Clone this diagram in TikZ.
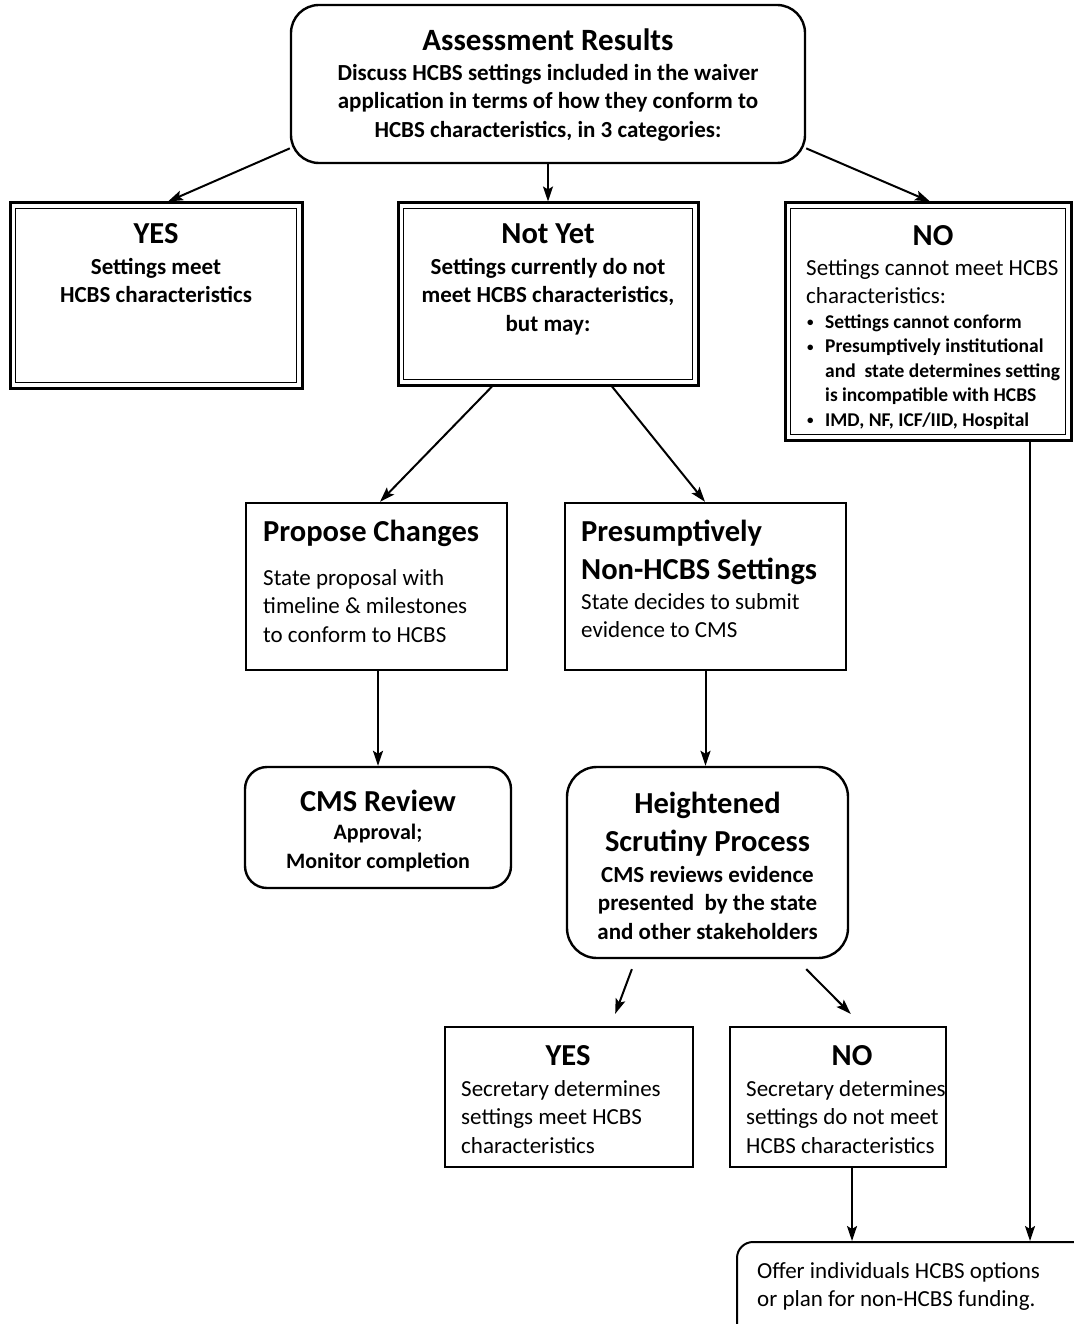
\documentclass[tikz,border=0pt]{standalone}
\usepackage{fontspec}
\setmainfont{Carlito}
\usetikzlibrary{arrows.meta}
\newcommand\TopRule{\rule{0pt}{25pt}}
\newcommand\SmBul{\makebox[19pt][l]{\hspace{1pt}\raisebox{1.5pt}{\fontsize{13}{13}\selectfont\textbullet}}}
\begin{document}
\begin{tikzpicture}[x=1pt,y=-1pt,
  box/.style={draw, line width=2.4pt, inner sep=0pt},
  dbox/.style={draw, line width=3pt, inner sep=0pt},
  arr/.style={line width=2pt, -{Stealth[length=15pt,width=10pt,inset=3pt]}},
  txt/.style={inner sep=0pt, align=center, anchor=north},
  ltxt/.style={inner sep=0pt, align=left, anchor=north west},
  ttl/.style={font=\fontsize{30.5}{36.5}\selectfont\bfseries},
  bodyb/.style={font=\fontsize{23}{28.5}\selectfont\bfseries},
  bodyr/.style={font=\fontsize{23}{28.5}\selectfont},
]
\useasboundingbox (0,0) rectangle (1073,1324);
\fill[white] (0,0) rectangle (1073,1324);

% ---- boxes ----
\node[box, rounded corners=28pt, minimum width=514pt, minimum height=158pt] (top) at (548,84) {};
\node[dbox, minimum width=292pt, minimum height=185pt] (yes1) at (156,295.5) {};
\node[dbox, minimum width=300pt, minimum height=182pt] (notyet) at (548,294) {};
\node[dbox, minimum width=286pt, minimum height=237pt] (no1) at (928,321.5) {};
\node[box, minimum width=261pt, minimum height=167pt] (prop) at (376.5,586.5) {};
\node[box, minimum width=281pt, minimum height=167pt] (pres) at (705.5,586.5) {};
\node[box, rounded corners=22pt, minimum width=266pt, minimum height=121pt] (cms) at (378,827.5) {};
\node[box, rounded corners=30pt, minimum width=281pt, minimum height=191pt] (hs) at (707.5,862.5) {};
\node[box, minimum width=248pt, minimum height=140pt] (yes2) at (569,1097) {};
\node[box, minimum width=216pt, minimum height=140pt] (no2) at (838,1097) {};
\node[box, line width=2pt, rounded corners=16pt, minimum width=352pt, minimum height=98pt] (offer) at (913,1291) {};

% inner lines of the double boxes
\foreach \b in {yes1,notyet,no1}
  \draw[line width=1.3pt] ([shift={(7,7)}]\b.north west) rectangle ([shift={(-7,-7)}]\b.south east);

% ---- texts ----
\node[txt, bodyb] (top-t) at (548,50-25)
  {\TopRule{\fontsize{31}{31}\selectfont Assessment Results}\\[1.5pt]
   Discuss HCBS settings included in the waiver\\
   application in terms of how they conform to\\
   HCBS characteristics, in 3 categories:};

\node[txt, bodyb] (yes1-t) at (156,243-25)
  {\TopRule{\fontsize{30.5}{30}\selectfont YES}\\[2.5pt]
   Settings meet\\ HCBS characteristics};

\node[txt, bodyb] (notyet-t) at (548,243-25)
  {\TopRule{\fontsize{30.5}{30}\selectfont Not Yet}\\[2.5pt]
   Settings currently do not\\ meet HCBS characteristics,\\ but may:};

\node[txt, ttl] (no1-h) at (933,245-25) {\TopRule NO};
\node[ltxt, bodyr] (no1-t) at (806,275-25)
  {\TopRule Settings cannot meet HCBS\\ characteristics:};
\node[ltxt, font=\fontsize{19.5}{24.5}\selectfont\bfseries] (no1-l) at (806,328-25)
  {\TopRule\SmBul Settings cannot conform\\
   \SmBul Presumptively institutional\\
   \hspace*{19pt}and\ \ state determines setting\\
   \hspace*{19pt}is incompatible with HCBS\\
   \SmBul IMD, NF, ICF/IID, Hospital};

\node[ltxt, bodyr] (prop-t) at (263,541-25)
  {\TopRule{\fontsize{30.5}{30}\selectfont\bfseries Propose Changes}\\[15.5pt]
   State proposal with\\ timeline \& milestones\\ to conform to HCBS};

\node[ltxt, bodyr] (pres-t) at (581,541-25)
  {\TopRule{\fontsize{30.5}{30}\selectfont\bfseries Presumptively}\\[9.5pt]
   {\fontsize{30.5}{30}\selectfont\bfseries Non-HCBS Settings}\\[1.5pt]
   State decides to submit\\ evidence to CMS};

\node[txt, font=\fontsize{22}{29}\selectfont\bfseries] (cms-t) at (378,811-25)
  {\TopRule{\fontsize{30.5}{30}\selectfont CMS Review}\\[-0.5pt]
   Approval;\\ Monitor completion};

\node[txt, bodyb] (hs-t) at (707.5,813-25)
  {\TopRule{\fontsize{30.5}{30}\selectfont Heightened}\\[9.5pt]
   {\fontsize{30.5}{30}\selectfont Scrutiny Process}\\[2.5pt]
   CMS reviews evidence\\ presented\ \ by the state\\ and other stakeholders};

\node[txt, ttl] (yes2-h) at (568,1065-25) {\TopRule YES};
\node[ltxt, bodyr] (yes2-t) at (461,1096-25)
  {\TopRule Secretary determines\\ settings meet HCBS\\ characteristics};

\node[txt, ttl] (no2-h) at (852,1065-25) {\TopRule NO};
\node[ltxt, bodyr] (no2-t) at (746,1096-25)
  {\TopRule Secretary determines\\ settings do not meet\\ HCBS characteristics};

\node[ltxt, bodyr] (offer-t) at (757,1278-25)
  {\TopRule Offer individuals HCBS options\\ or plan for non-HCBS funding.};

% ---- connectors ----
\draw[arr] (top.194) -- ([xshift=12pt]yes1.north);
\draw[arr] (top.south) -- (notyet.north);
\draw[arr] (top.346) -- ([xshift=2pt]no1.north);
\draw[arr] ([xshift=-56pt]notyet.south) -- ([xshift=3.5pt]prop.north);
\draw[arr] ([xshift=64pt]notyet.south) -- ([xshift=-0.5pt]pres.north);
\draw[arr] ([xshift=1.5pt]prop.south) -- ([xshift=1.5pt]prop.south |- cms.north);
\draw[arr] (pres.south) -- (pres.south |- hs.north);
\draw[arr, shorten <=10.6pt, shorten >=12.8pt] ([xshift=-71.9pt]hs.south) -- ([xshift=41.7pt]yes2.north);
\draw[arr, shorten <=13.9pt, shorten >=16.6pt] ([xshift=88.9pt]hs.south) -- ([xshift=24.5pt]no2.north);
\draw[arr] ([xshift=14pt]no2.south) -- ([xshift=14pt]no2.south |- offer.north);
\draw[arr] ([xshift=102pt]no1.south) -- ([xshift=102pt]no1.south |- offer.north);
\end{tikzpicture}
\end{document}
